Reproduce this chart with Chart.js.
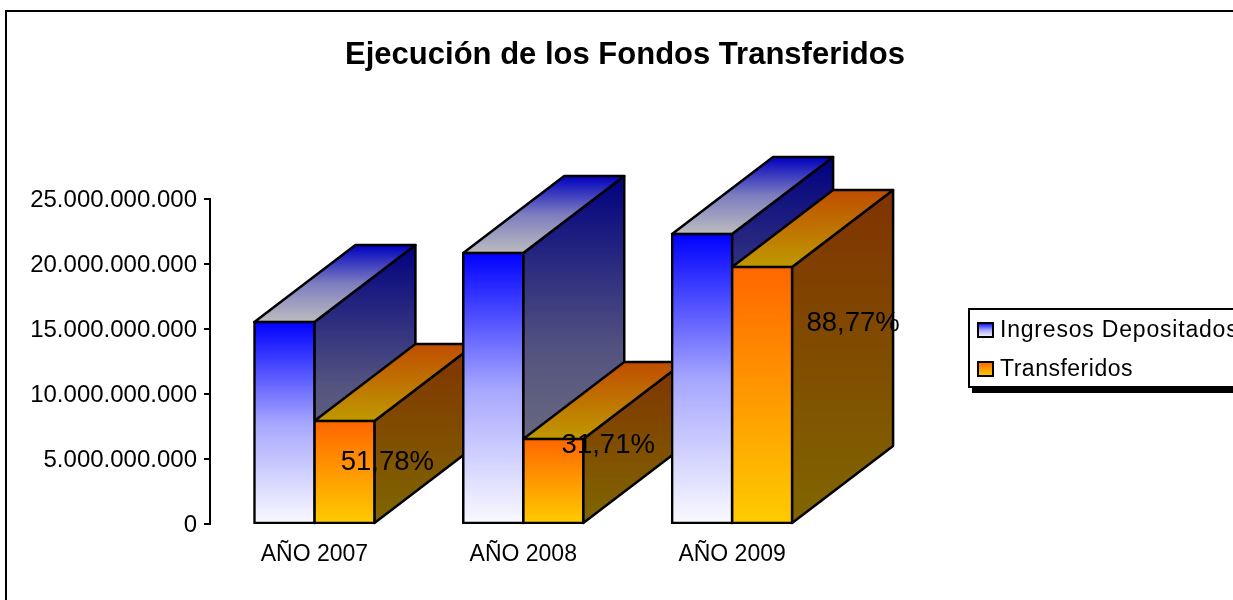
<!DOCTYPE html>
<html lang="es">
<head>
<meta charset="utf-8">
<title>Ejecución de los Fondos Transferidos</title>
<script src="https://cdn.jsdelivr.net/npm/chart.js@4"></script>
<style>
    html, body { margin: 0; padding: 0; background: #fff; overflow: hidden; }
    canvas { display: block; }
</style>
</head>
<body>
<canvas id="grafico" width="1233" height="600"></canvas>
<script>
// Datos
const categorias = ['AÑO 2007', 'AÑO 2008', 'AÑO 2009'];
const ingresosDepositados = [15540000000, 20850000000, 22300000000];
const transferidos = [7920000000, 6540000000, 19770000000];
const porcentajes = ['51,78%', '31,71%', '88,77%'];

// Colores de cada serie: arriba, centro y abajo de la cara frontal
const coloresIngresos = [[0, 0, 255], [166, 166, 255], [250, 250, 255]];
const coloresTransferidos = [[255, 102, 0], [255, 153, 0], [255, 204, 0]];

const fuente = '"Liberation Sans", Arial, sans-serif';
const grosorLinea = 2.5;
const profundidadX = 101;
const profundidadY = 77;

// Desplazamiento de cada porcentaje respecto a su barra
const ajusteEtiquetas = [[43, 41], [55, 6], [91, 56]];

// Degradado vertical con los colores repartidos por igual, oscurecido con k
const gradiente = (ctx, y0, y1, colores, k = 1) => {
    const g = ctx.createLinearGradient(0, y0, 0, y1);
    colores.forEach((c, i) => {
        g.addColorStop(i / (colores.length - 1), `rgb(${Math.round(c[0] * k)},${Math.round(c[1] * k)},${Math.round(c[2] * k)})`);
    });
    return g;
};

// Relleno de la cara frontal, calculado con la escala
const rellenoFrontal = (colores) => (context) => {
    const solido = `rgb(${colores[0].join(',')})`;
    if (context.type !== 'data') return solido;
    const escala = context.chart.scales.y;
    const arriba = escala.getPixelForValue(context.parsed.y);
    const abajo = escala.getPixelForValue(0);
    // Antes del primer layout la escala todavía no da píxeles válidos
    if (!Number.isFinite(arriba) || !Number.isFinite(abajo)) return solido;
    return gradiente(context.chart.ctx, arriba, abajo, colores);
};

const poligono = (ctx, puntos, relleno) => {
    ctx.beginPath();
    puntos.forEach((p, i) => (i ? ctx.lineTo(p[0], p[1]) : ctx.moveTo(p[0], p[1])));
    ctx.closePath();
    ctx.fillStyle = relleno;
    ctx.fill();
    ctx.stroke();
};

// Marco exterior (abierto a la derecha y abajo)
const marco = {
    id: 'marco',
    beforeDraw(chart) {
        const { ctx, width, height } = chart;
        ctx.save();
        ctx.fillStyle = '#fff';
        ctx.fillRect(0, 0, width, height);
        ctx.strokeStyle = '#000';
        ctx.lineWidth = 2;
        ctx.beginPath();
        ctx.moveTo(6, height);
        ctx.lineTo(6, 11);
        ctx.lineTo(width, 11);
        ctx.stroke();
        ctx.restore();
    },
    // El título va centrado sobre todo el gráfico y no sobre el área de barras
    afterLayout(chart) {
        chart.titleBlock.left = 0;
        chart.titleBlock.right = 1250;
    }
};

// Caras lateral y superior de cada barra; la frontal la dibuja Chart.js encima
const barras3d = {
    id: 'barras3d',
    beforeDatasetsDraw(chart) {
        const { ctx } = chart;
        const series = [coloresIngresos, coloresTransferidos];
        ctx.save();
        ctx.strokeStyle = '#000';
        ctx.lineWidth = grosorLinea;
        ctx.lineJoin = 'round';
        categorias.forEach((_, i) => {
            series.forEach((colores, d) => {
                const barra = chart.getDatasetMeta(d).data[i];
                const izq = barra.x - barra.width / 2;
                const der = barra.x + barra.width / 2;
                const dx = profundidadX;
                const dy = profundidadY;
                poligono(ctx,
                    [[der, barra.y], [der + dx, barra.y - dy], [der + dx, barra.base - dy], [der, barra.base]],
                    gradiente(ctx, barra.y - dy, barra.base, colores, 0.5));
                poligono(ctx,
                    [[izq, barra.y], [der, barra.y], [der + dx, barra.y - dy], [izq + dx, barra.y - dy]],
                    gradiente(ctx, barra.y - dy, barra.y, colores, 0.75));
            });
        });
        ctx.restore();
    },
    // Porcentajes sobre la serie Transferidos
    afterDatasetsDraw(chart) {
        const { ctx } = chart;
        const meta = chart.getDatasetMeta(1);
        ctx.save();
        ctx.font = `27.5px ${fuente}`;
        ctx.fillStyle = '#000';
        ctx.textAlign = 'center';
        ctx.textBaseline = 'middle';
        porcentajes.forEach((texto, i) => {
            const barra = meta.data[i];
            ctx.fillText(texto, barra.x + ajusteEtiquetas[i][0], barra.y + ajusteEtiquetas[i][1]);
        });
        ctx.restore();
    }
};

// Leyenda con caja y sombra, cortada por el borde derecho como en el original
const leyenda = {
    id: 'leyenda',
    afterDraw(chart) {
        const { ctx } = chart;
        ctx.save();
        ctx.fillStyle = '#000';
        ctx.fillRect(972, 312, 300, 81);
        ctx.fillStyle = '#fff';
        ctx.strokeStyle = '#000';
        ctx.lineWidth = 2;
        ctx.fillRect(969, 309, 300, 78);
        ctx.strokeRect(969, 309, 300, 78);
        chart.data.datasets.forEach((serie, i) => {
            const colores = i === 0 ? coloresIngresos : coloresTransferidos;
            const y = 323 + i * 39;
            ctx.fillStyle = gradiente(ctx, y, y + 14, colores);
            ctx.fillRect(978, y, 15, 14);
            ctx.strokeRect(978, y, 15, 14);
            ctx.fillStyle = '#000';
            ctx.font = `23px ${fuente}`;
            ctx.letterSpacing = i === 0 ? '0.8px' : '0.5px';
            ctx.textAlign = 'left';
            ctx.textBaseline = 'middle';
            ctx.fillText(serie.label, 1000, y + 8);
        });
        ctx.restore();
    }
};

new Chart(document.getElementById('grafico'), {
    type: 'bar',
    data: {
        labels: categorias,
        datasets: [
            {
                label: 'Ingresos Depositados',
                data: ingresosDepositados,
                backgroundColor: rellenoFrontal(coloresIngresos)
            },
            {
                label: 'Transferidos',
                data: transferidos,
                backgroundColor: rellenoFrontal(coloresTransferidos)
            }
        ]
    },
    options: {
        responsive: false,
        animation: false,
        barThickness: 60,
        borderColor: '#000',
        borderWidth: grosorLinea,
        borderSkipped: false,
        inflateAmount: grosorLinea / 2,
        layout: { padding: { left: 0, top: 0, right: 396.5, bottom: 0 } },
        plugins: {
            legend: { display: false },
            tooltip: { enabled: false },
            title: {
                display: true,
                text: 'Ejecución de los Fondos Transferidos',
                color: '#000',
                font: { family: fuente, size: 31, weight: 'bold' },
                padding: { top: 36.6, bottom: 125.2 }
            }
        },
        scales: {
            x: {
                grid: { display: false },
                border: { display: false },
                ticks: {
                    color: '#000',
                    padding: 9,
                    maxRotation: 0,
                    font: { family: fuente, size: 23 }
                },
                afterFit(escala) { escala.height = 76; }
            },
            y: {
                min: 0,
                max: 25000000000,
                grid: { drawOnChartArea: false, drawTicks: true, tickLength: 6, color: '#000', lineWidth: 2 },
                border: { display: true, color: '#000', width: 2 },
                ticks: {
                    stepSize: 5000000000,
                    color: '#000',
                    padding: 7,
                    labelOffset: 1.5,
                    font: { family: fuente, size: 24 },
                    callback: (valor) => String(valor).replace(/\B(?=(\d{3})+(?!\d))/g, '.')
                },
                afterFit(escala) { escala.width = 210; }
            }
        }
    },
    plugins: [marco, barras3d, leyenda]
});
</script>
</body>
</html>
